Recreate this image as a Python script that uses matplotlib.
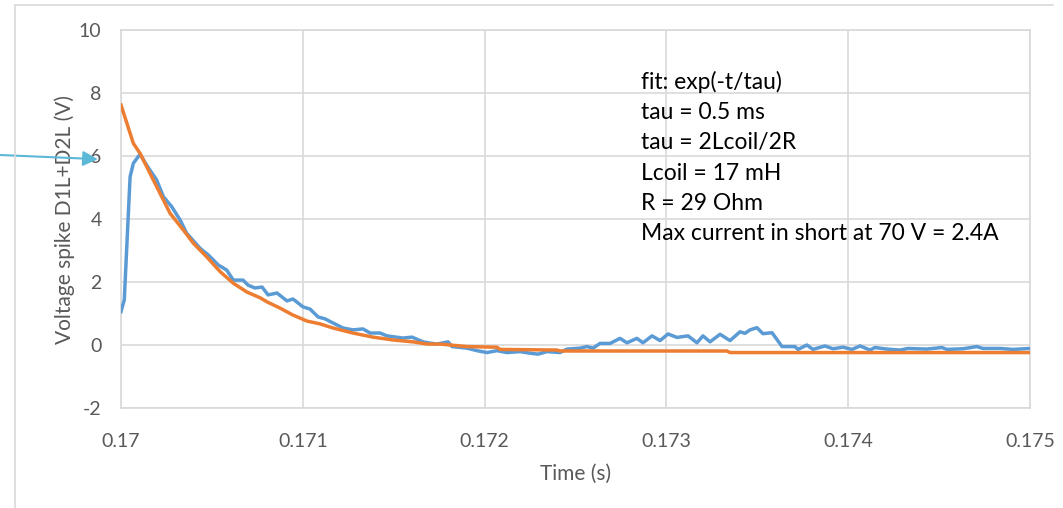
import matplotlib
matplotlib.use("Agg")
import matplotlib.pyplot as plt
from matplotlib.lines import Line2D

plt.rcParams['font.family'] = ['Lato', 'DejaVu Sans']
plt.rcParams['axes.unicode_minus'] = False

# measured spike (s, V)
t_meas = [0.17000, 0.170018, 0.170050, 0.170068, 0.170105, 0.170141, 0.170196, 0.170233,
          0.170279, 0.170325, 0.170361, 0.170435, 0.170480, 0.170535, 0.170581, 0.170618,
          0.170671, 0.170699, 0.170737, 0.170776, 0.170809, 0.170858, 0.170913, 0.170946,
          0.171001, 0.171040, 0.171084, 0.171122, 0.171166, 0.171221, 0.171276, 0.171331,
          0.171370, 0.171425, 0.171463, 0.171551, 0.171601, 0.171661, 0.171700, 0.171738,
          0.171799, 0.171821, 0.171903, 0.171958, 0.172013, 0.172068, 0.172123, 0.172195,
          0.172250, 0.172294, 0.172343, 0.172415, 0.172453, 0.172525, 0.172563, 0.172596,
          0.172635, 0.172690, 0.172745, 0.172783, 0.172838, 0.172871, 0.172921, 0.172965,
          0.173009, 0.173058, 0.173119, 0.173168, 0.173201, 0.173240, 0.173295, 0.173350,
          0.173405, 0.173432, 0.173460, 0.173498, 0.173531, 0.173581, 0.173636, 0.173707,
          0.173724, 0.173773, 0.173806, 0.173872, 0.173916, 0.173971, 0.174021, 0.174065,
          0.174120, 0.174147, 0.174213, 0.174285, 0.174329, 0.174433, 0.174516, 0.174543,
          0.174631, 0.174708, 0.174741, 0.174835, 0.174906, 0.175000]
v_meas = [1.06, 1.43, 5.34, 5.77, 6.06, 5.71, 5.24, 4.71,
          4.39, 3.97, 3.55, 3.07, 2.86, 2.54, 2.38, 2.06,
          2.06, 1.90, 1.81, 1.84, 1.59, 1.65, 1.40, 1.46,
          1.21, 1.14, 0.89, 0.83, 0.70, 0.54, 0.48, 0.51,
          0.38, 0.38, 0.29, 0.22, 0.25, 0.10, 0.06, 0.03,
          0.10, -0.05, -0.10, -0.18, -0.24, -0.18, -0.24, -0.21,
          -0.26, -0.29, -0.21, -0.24, -0.13, -0.10, -0.05, -0.10,
          0.05, 0.05, 0.21, 0.07, 0.21, 0.07, 0.29, 0.14,
          0.35, 0.24, 0.29, 0.07, 0.29, 0.10, 0.34, 0.14,
          0.42, 0.37, 0.48, 0.55, 0.36, 0.39, -0.05, -0.05,
          -0.14, 0.00, -0.14, -0.03, -0.12, -0.07, -0.14, -0.03,
          -0.16, -0.08, -0.13, -0.16, -0.11, -0.13, -0.08, -0.14,
          -0.12, -0.05, -0.11, -0.11, -0.14, -0.11]

# fit curve (s, V)
t_fit = [0.17, 0.170068, 0.170105, 0.170215, 0.170270, 0.170343, 0.170398, 0.170471,
         0.170545, 0.170618, 0.170693, 0.170765, 0.170803, 0.170875, 0.170946, 0.171023,
         0.171095, 0.171166, 0.171276, 0.171386, 0.171496, 0.171606, 0.171683, 0.171755,
         0.171903, 0.172068, 0.172085, 0.172398, 0.172415, 0.173333, 0.173350, 0.175]
v_fit = [7.62, 6.40, 6.08, 4.81, 4.18, 3.65, 3.23, 2.80,
         2.33, 1.96, 1.68, 1.50, 1.37, 1.17, 0.95, 0.76,
         0.67, 0.54, 0.38, 0.25, 0.16, 0.10, 0.03, 0.03,
         -0.05, -0.07, -0.14, -0.16, -0.19, -0.19, -0.24, -0.24]

x_ticks = [0.17, 0.171, 0.172, 0.173, 0.174, 0.175]
x_labels = ["0.17", "0.171", "0.172", "0.173", "0.174", "0.175"]
y_ticks = [-2, 0, 2, 4, 6, 8, 10]

fit_text = ("fit: exp(-t/tau)\ntau = 0.5 ms\ntau = 2Lcoil/2R\nLcoil = 17 mH\n"
            "R = 29 Ohm\nMax current in short at 70 V = 2.4A")

grid_col = "#D9D9D9"
txt_col = "#595959"

fig = plt.figure(figsize=(10.63, 5.08), dpi=100)
ax = fig.add_axes([121/1063, 1 - 408/508, (1030 - 121)/1063, (408 - 30)/508])

ax.plot(t_meas, v_meas, color="#5B9BD5", lw=2.5, solid_joinstyle="round", zorder=3)
ax.plot(t_fit, v_fit, color="#ED7D31", lw=2.5, solid_joinstyle="round", zorder=4)

ax.set_xlim(0.17, 0.175)
ax.set_ylim(-2, 10)
ax.set_xticks(x_ticks)
ax.set_xticklabels(x_labels)
ax.set_yticks(y_ticks)
ax.grid(True, color=grid_col, lw=1.2)
ax.set_axisbelow(True)
for s in ax.spines.values():
    s.set_color(grid_col)
    s.set_linewidth(1.2)
ax.tick_params(length=0, labelsize=14, labelcolor=txt_col)
ax.tick_params(axis="x", pad=18)
ax.tick_params(axis="y", pad=14)

ax.set_xlabel("Time (s)", fontsize=15, color=txt_col, labelpad=10)
ax.set_ylabel("Voltage spike D1L+D2L (V)", fontsize=15, color=txt_col, labelpad=3)

ax.text(0.572, 0.893, fit_text, transform=ax.transAxes, fontsize=16.5,
        color="black", va="top", ha="left", linespacing=1.55)

# arrow pointing in from the left edge
ax.annotate("", xy=(0.169873, 5.9), xytext=(0.0, 1 - 155/508),
            textcoords="figure fraction", annotation_clip=False,
            arrowprops=dict(arrowstyle="-|>,head_length=0.9,head_width=0.45",
                            color="#5BB8D6", lw=1.5, shrinkA=0, shrinkB=0))

# chart frame (left and top edges)
fig.add_artist(Line2D([15/1063, 15/1063], [0, 1 - 5/508], color=grid_col, lw=1.2))
fig.add_artist(Line2D([15/1063, 1053/1063], [1 - 5/508, 1 - 5/508], color=grid_col, lw=1.2))

fig.savefig("out.png", dpi=100)
